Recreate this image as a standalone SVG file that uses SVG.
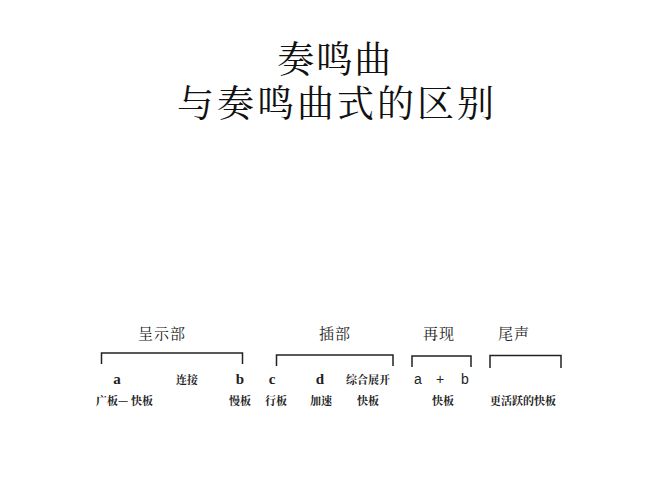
<svg xmlns="http://www.w3.org/2000/svg" width="667" height="500" viewBox="0 0 667 500">
<style>
.title{font-family:"Noto Serif CJK SC","Noto Sans CJK SC",serif;font-size:37px;fill:#111;text-anchor:middle}
.sec{font-family:"Noto Serif CJK SC","Noto Sans CJK SC",serif;font-size:15px;fill:#222;text-anchor:middle}
.small{font-family:"Noto Serif CJK SC","Noto Sans CJK SC",serif;font-size:11px;fill:#222;font-weight:bold}
.let{font-family:"Liberation Serif",serif;font-size:15px;font-weight:bold;fill:#222;text-anchor:middle}
.let2{font-family:"Liberation Sans",sans-serif;font-size:14px;fill:#222;text-anchor:middle}
.br{fill:none;stroke:#222;stroke-width:1.5}
</style>
<rect width="667" height="500" fill="#fff"/>
<g id="title">
<text class="title" x="335" y="73" letter-spacing="1.5">奏鸣曲</text>
<text class="title" x="337" y="117" letter-spacing="3">与奏鸣曲式的区别</text>
</g>
<g id="connectors">
<path class="br" d="M101.5,364 V353 H242.5 V364"/>
<path class="br" d="M276.5,366 V355 H393 V366"/>
<path class="br" d="M412,367 V356 H471 V367"/>
<path class="br" d="M490,368 V355.5 H561 V368"/>
</g>
<g id="exposition">
<text class="sec" x="162" y="339" letter-spacing="1">呈示部</text>
<text class="let" x="117" y="384">a</text>
<text class="small" x="176" y="384">连接</text>
<text class="let" x="240" y="384">b</text>
<text class="small" x="96" y="405">广板— 快板</text>
<text class="small" x="229" y="405">慢板</text>
</g>
<g id="episode">
<text class="sec" x="335" y="339" letter-spacing="1">插部</text>
<text class="let" x="272" y="384">c</text>
<text class="let" x="320" y="384">d</text>
<text class="small" x="346" y="384">综合展开</text>
<text class="small" x="265" y="405">行板</text>
<text class="small" x="310" y="405">加速</text>
<text class="small" x="357" y="405">快板</text>
</g>
<g id="recap">
<text class="sec" x="439" y="339" letter-spacing="1">再现</text>
<text class="let2" x="418" y="384">a</text>
<text class="let2" x="440" y="384">+</text>
<text class="let2" x="465" y="384">b</text>
<text class="small" x="432" y="405">快板</text>
</g>
<g id="coda">
<text class="sec" x="514" y="339" letter-spacing="1">尾声</text>
<text class="small" x="490" y="405">更活跃的快板</text>
</g>
</svg>
